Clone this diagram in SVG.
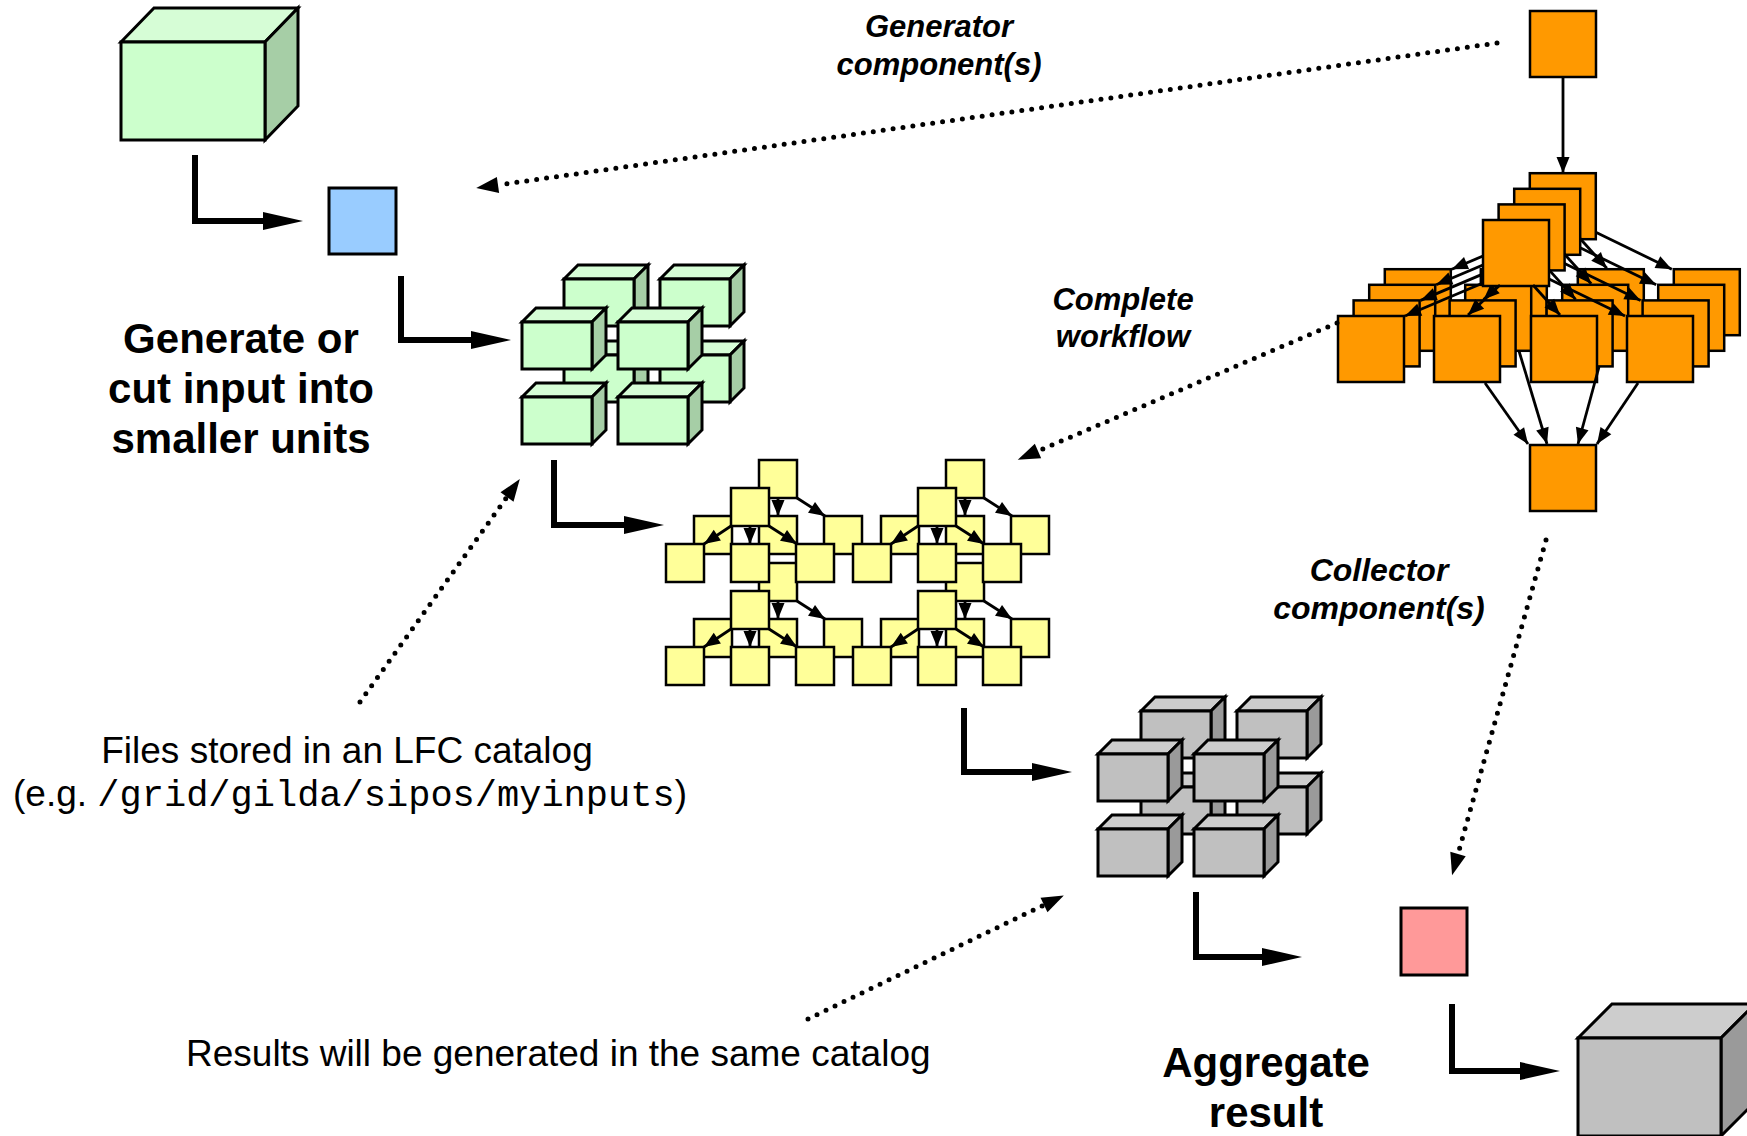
<svg xmlns="http://www.w3.org/2000/svg" width="1747" height="1136" viewBox="0 0 1747 1136">
<style>
  .bx{stroke:#000;stroke-width:3;stroke-linejoin:miter}
  .gf{fill:#ccffcc}.gt{fill:#d6fdd6}.gs{fill:#a6cea6}
  .kf{fill:#c0c0c0}.kt{fill:#cdcdcd}.ks{fill:#9a9a9a}
  .yl{fill:#ffff99;stroke:#000;stroke-width:2.5}
  .or{fill:#ff9900;stroke:#000;stroke-width:2.5}
  .bl{fill:#99ccff;stroke:#000;stroke-width:3}
  .pk{fill:#ff9999;stroke:#000;stroke-width:3}
  .thin{fill:none;stroke:#000;stroke-width:2.8;marker-end:url(#ah)}
  .thick{fill:none;stroke:#000;stroke-width:6;marker-end:url(#big)}
  .dot{fill:none;stroke:#000;stroke-width:5;stroke-linecap:round;stroke-dasharray:0 10;marker-end:url(#dh)}
  text{font-family:"Liberation Sans",Arial,sans-serif;fill:#000}
  .h{font-size:42px;font-weight:bold;text-anchor:middle}
  .lb{font-size:31px;font-weight:bold;font-style:italic;text-anchor:middle}
  .tx{font-size:37px}
  .mono{font-family:"Liberation Mono","Courier New",monospace}
</style>
<defs>
  <marker id="ah" markerUnits="userSpaceOnUse" markerWidth="16" markerHeight="13" refX="16" refY="6.5" orient="auto" overflow="visible"><path d="M0,0 L16,6.5 L0,13 z"/></marker>
  <marker id="big" markerUnits="userSpaceOnUse" markerWidth="40" markerHeight="18" refX="0" refY="9" orient="auto" overflow="visible"><path d="M0,0 L40,9 L0,18 z"/></marker>
  <marker id="dh" markerUnits="userSpaceOnUse" markerWidth="22" markerHeight="16" refX="0" refY="8" orient="auto" overflow="visible"><path d="M0,0 L22,8 L0,16 z"/></marker>
  <!-- small green data cube -->
  <g id="gcube" class="bx">
    <polygon class="gt" points="0,0 14,-14 84,-14 70,0"/>
    <polygon class="gs" points="70,0 84,-14 84,33 70,47"/>
    <rect class="gf" x="0" y="0" width="70" height="47"/>
  </g>
  <!-- small grey result cube -->
  <g id="kcube" class="bx">
    <polygon class="kt" points="0,0 14,-14 84,-14 70,0"/>
    <polygon class="ks" points="70,0 84,-14 84,33 70,47"/>
    <rect class="kf" x="0" y="0" width="70" height="47"/>
  </g>
  <!-- yellow tree: back layer -->
  <g id="yb">
    <rect class="yl" x="28" y="-28" width="38" height="38"/>
    <rect class="yl" x="-37" y="28" width="38" height="38"/>
    <rect class="yl" x="28" y="28" width="38" height="38"/>
    <rect class="yl" x="93" y="28" width="38" height="38"/>
    <path class="thin" d="M28,10 L1,28"/>
    <path class="thin" d="M47,10 L47,28"/>
    <path class="thin" d="M66,10 L94,28"/>
  </g>
  <!-- yellow tree: front layer -->
  <g id="yf">
    <rect class="yl" x="0" y="0" width="38" height="38"/>
    <rect class="yl" x="-65" y="56" width="38" height="38"/>
    <rect class="yl" x="0" y="56" width="38" height="38"/>
    <rect class="yl" x="65" y="56" width="38" height="38"/>
    <path class="thin" d="M0,38 L-27,56"/>
    <path class="thin" d="M19,38 L19,56"/>
    <path class="thin" d="M38,38 L66,56"/>
  </g>
  <!-- one layer of the orange workflow (front position) -->
  <g id="ol">
    <rect class="or" x="1338" y="316" width="66" height="66"/>
    <rect class="or" x="1434" y="316" width="66" height="66"/>
    <rect class="or" x="1531" y="316" width="66" height="66"/>
    <rect class="or" x="1627" y="316" width="66" height="66"/>
    <rect class="or" x="1483" y="220" width="66" height="66"/>
    <path class="thin" d="M1483,283 L1405,316"/>
    <path class="thin" d="M1500,285 L1468,315"/>
    <path class="thin" d="M1533,285 L1560,315"/>
    <path class="thin" d="M1549,279 L1625,316"/>
  </g>
</defs>

<rect width="1747" height="1136" fill="#fff"/>

<!-- input data cube -->
<g id="input-cube" class="bx">
  <polygon class="gt" points="121,42 154,8 298,8 265,42"/>
  <polygon class="gs" points="265,42 298,8 298,106 265,140"/>
  <rect class="gf" x="121" y="42" width="144" height="98"/>
</g>

<!-- generator job -->
<g id="generator-job"><rect class="bl" x="329" y="188" width="67" height="66"/></g>

<!-- input split into units -->
<g id="input-units">
  <use href="#gcube" x="564" y="279"/>
  <use href="#gcube" x="660" y="279"/>
  <use href="#gcube" x="564" y="355"/>
  <use href="#gcube" x="660" y="355"/>
  <use href="#gcube" x="522" y="322"/>
  <use href="#gcube" x="618" y="322"/>
  <use href="#gcube" x="522" y="397"/>
  <use href="#gcube" x="618" y="397"/>
</g>

<!-- workflow instances -->
<g id="workflow-instances">
  <use href="#yb" x="731" y="488"/>
  <use href="#yb" x="918" y="488"/>
  <use href="#yb" x="731" y="591"/>
  <use href="#yb" x="918" y="591"/>
  <use href="#yf" x="731" y="488"/>
  <use href="#yf" x="918" y="488"/>
  <use href="#yf" x="731" y="591"/>
  <use href="#yf" x="918" y="591"/>
</g>

<!-- output units -->
<g id="output-units">
  <use href="#kcube" x="1141" y="711"/>
  <use href="#kcube" x="1237" y="711"/>
  <use href="#kcube" x="1141" y="787"/>
  <use href="#kcube" x="1237" y="787"/>
  <use href="#kcube" x="1098" y="754"/>
  <use href="#kcube" x="1194" y="754"/>
  <use href="#kcube" x="1098" y="829"/>
  <use href="#kcube" x="1194" y="829"/>
</g>

<!-- collector job -->
<g id="collector-job"><rect class="pk" x="1401" y="908" width="66" height="67"/></g>

<!-- aggregated result cube -->
<g id="result-cube" class="bx">
  <polygon class="kt" points="1578,1038 1612,1004 1755,1004 1721,1038"/>
  <polygon class="ks" points="1721,1038 1755,1004 1755,1102 1721,1136"/>
  <rect class="kf" x="1578" y="1038" width="143" height="98"/>
</g>

<!-- complete workflow graph -->
<g id="workflow-graph">
  <rect class="or" x="1530" y="11" width="66" height="66"/>
  <path class="thin" d="M1563,77 L1563,173"/>
  <use href="#ol" x="46.8" y="-46.8"/>
  <use href="#ol" x="31.2" y="-31.2"/>
  <use href="#ol" x="15.6" y="-15.6"/>
  <use href="#ol" x="0" y="0"/>
  <rect class="or" x="1530" y="445" width="66" height="66"/>
  <path class="thin" d="M1485,383 L1528,444"/>
  <path class="thin" d="M1519,351 L1547,444"/>
  <path class="thin" d="M1599,367 L1578,444"/>
  <path class="thin" d="M1638,383 L1597,444"/>
</g>

<!-- connectors -->
<g id="connectors">
  <path class="thick" d="M195,155 V221 H263"/>
  <path class="thick" d="M401,276 V340 H471"/>
  <path class="thick" d="M554,460 V525 H624"/>
  <path class="thick" d="M964,708 V772 H1032"/>
  <path class="thick" d="M1196,892 V957 H1262"/>
  <path class="thick" d="M1452,1004 V1071 H1520"/>
  <path class="dot" d="M1497,43 L498,185"/>
  <path class="dot" d="M1337,323 L1038,451"/>
  <path class="dot" d="M1546,540 L1458,854"/>
  <path class="dot" d="M360,702 L507,497"/>
  <path class="dot" d="M808,1019 L1044,905"/>
</g>

<!-- labels -->
<g id="labels">
  <text class="lb" x="939" y="37">Generator</text>
  <text class="lb" x="939" y="75">component(s)</text>
  <text class="lb" x="1123" y="310">Complete</text>
  <text class="lb" x="1123" y="347">workflow</text>
  <text class="lb" x="1379" y="581" style="font-size:32px">Collector</text>
  <text class="lb" x="1379" y="619" style="font-size:32px">component(s)</text>
  <text class="h" x="241" y="353">Generate or</text>
  <text class="h" x="241" y="403">cut input into</text>
  <text class="h" x="241" y="453">smaller units</text>
  <text class="h" x="1266" y="1077">Aggregate</text>
  <text class="h" x="1266" y="1127">result</text>
  <text class="tx" x="347" y="763" text-anchor="middle">Files stored in an LFC catalog</text>
  <text class="tx" x="13" y="806">(e.g. <tspan class="mono">/grid/gilda/sipos/myinputs</tspan>)</text>
  <text class="tx" x="186" y="1066">Results will be generated in the same catalog</text>
</g>
</svg>
